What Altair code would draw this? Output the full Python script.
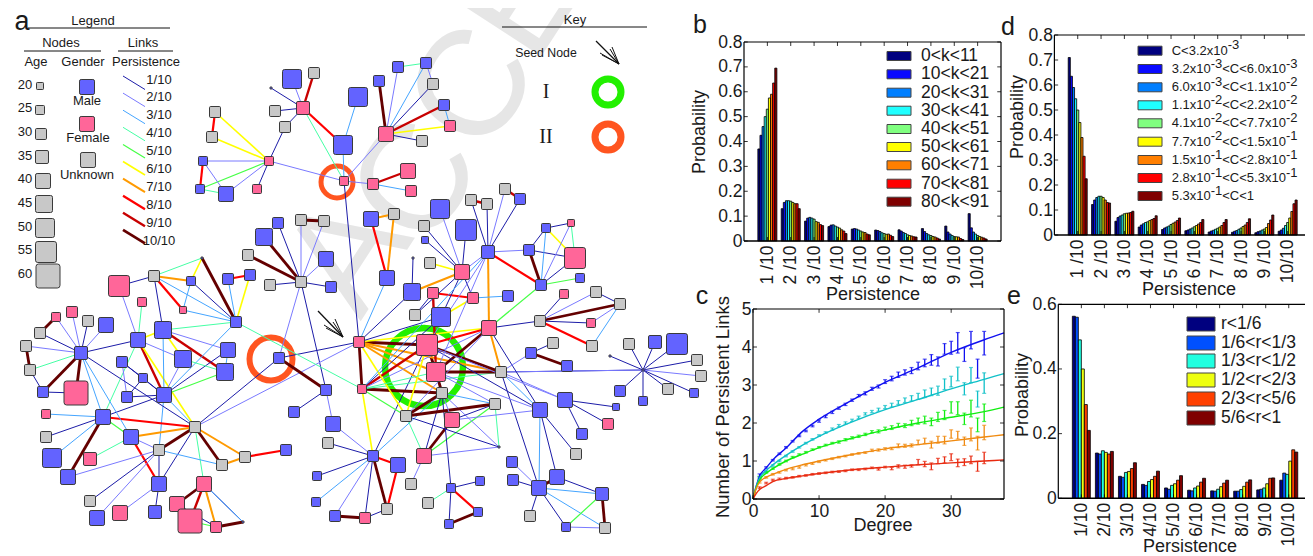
import re
import altair as alt
import pandas as pd

# ---------- network: nodes ----------
NODES = [
("a1",271,88,10,"M"),("a2",292,79,50,"M"),("a3",314,73,30,"U"),("a4",303,108,35,"F"),("a5",275,111,30,"U"),
("a6",285,127,30,"U"),("a7",215,112,30,"U"),("a8",212,137,30,"U"),("a9",269,161,25,"F"),("a10",203,161,25,"M"),
("a11",200,189,25,"M"),("a12",226,194,40,"M"),("a13",257,189,25,"F"),
("c1",344,181,25,"F"),("c2",373,184,30,"F"),("c3",408,171,40,"F"),("c4",411,191,30,"F"),("c5",343,145,50,"M"),
("c6",358,97,50,"M"),("c7",386,134,40,"F"),("c8",379,81,30,"M"),("c9",398,67,30,"M"),("c10",426,63,30,"M"),
("c11",433,84,30,"U"),("c12",444,105,30,"M"),("c13",450,126,30,"F"),("c14",422,141,30,"U"),
("e1",371,219,40,"M"),("e2",394,214,30,"U"),("e3",440,209,50,"M"),("e4",424,226,30,"U"),("e5",425,240,20,"M"),
("e6",466,230,55,"M"),("e7",471,200,30,"U"),("e8",487,204,30,"U"),("e9",505,189,30,"U"),("e10",520,199,30,"M"),
("e11",488,252,35,"M"),("e12",529,250,30,"M"),("e13",546,228,25,"M"),("e14",571,223,20,"F"),("e15",575,258,55,"F"),
("e16",462,272,40,"F"),("e17",430,263,30,"U"),("e18",387,278,40,"M"),("e19",413,258,10,"M"),
("f1",412,292,45,"M"),("f2",433,293,30,"F"),("f3",473,298,30,"F"),("f4",508,296,30,"M"),("f5",415,315,30,"U"),
("f6",441,317,50,"M"),("f7",489,328,40,"F"),
("s1",427,345,55,"F"),("s2",436,372,50,"F"),("d1",359,342,30,"F"),("d2",362,389,25,"F"),("s3",442,393,30,"U"),
("s4",406,416,30,"U"),("s5",452,420,40,"F"),("s6",495,404,30,"U"),("s7",501,372,30,"U"),
("g1",541,285,30,"M"),("g2",580,278,25,"M"),("g3",564,294,25,"F"),("g4",596,292,30,"U"),("g5",620,304,30,"U"),
("g6",540,321,30,"U"),("g7",591,323,25,"F"),("g8",592,346,30,"U"),("g9",553,343,30,"U"),("g10",531,353,30,"M"),
("g11",567,366,30,"M"),("g12",610,356,10,"M"),("h0",643,370,10,"M"),("h1",629,344,30,"U"),("h2",655,342,35,"M"),
("h3",677,344,55,"M"),("h4",697,360,30,"U"),("h5",701,376,30,"U"),("h6",694,393,25,"M"),("h7",620,391,30,"M"),
("h8",643,401,25,"M"),("h9",668,389,30,"U"),
("k1",565,400,40,"M"),("k2",540,410,40,"M"),("k3",616,407,20,"M"),("k4",608,424,30,"F"),("k5",582,434,30,"M"),
("k6",576,454,30,"U"),("k7",512,462,30,"M"),("k8",513,480,30,"M"),("k9",539,488,40,"M"),("k10",557,477,40,"M"),
("k11",602,494,35,"M"),("k12",530,516,30,"U"),("k13",566,527,25,"M"),("k14",605,528,30,"U"),
("m1",373,456,30,"M"),("m2",398,465,40,"M"),("m3",424,456,40,"F"),("m4",411,484,30,"U"),("m5",499,447,10,"M"),
("n1",451,488,25,"M"),("n2",480,481,25,"M"),("n3",428,503,30,"U"),("n4",478,512,25,"M"),("n5",449,524,25,"M"),
("m6",387,509,30,"U"),("m7",365,518,30,"F"),("m8",335,516,30,"M"),
("p1",154,276,30,"U"),("p2",119,286,55,"F"),("p3",191,281,25,"M"),("p4",142,302,25,"F"),("p5",183,310,20,"F"),
("p6",236,322,30,"M"),("p7",228,279,30,"M"),("p8",250,275,30,"M"),("p9",301,282,30,"U"),("p10",270,285,30,"U"),
("p11",331,287,30,"M"),("r1",278,223,30,"M"),("r2",301,220,30,"U"),("r3",324,221,30,"U"),("r4",264,237,45,"M"),
("r5",248,255,30,"U"),("r6",326,259,40,"M"),("r7",202,258,10,"M"),
("t1",72,312,30,"F"),("t2",56,317,25,"F"),("t3",88,321,30,"U"),("t4",106,325,40,"M"),("t5",40,333,30,"U"),
("t6",26,346,30,"U"),("t7",30,370,30,"U"),("t8",43,392,30,"M"),("t9",76,393,60,"F"),("t10",81,353,35,"M"),
("u1",138,340,40,"M"),("u2",163,330,45,"M"),("u3",122,362,30,"M"),("u4",143,378,25,"M"),("u5",127,397,30,"M"),
("u6",164,395,40,"M"),("u7",183,359,45,"M"),("u8",228,350,40,"M"),("u9",225,372,45,"M"),
("v1",103,417,40,"M"),("v2",46,414,25,"F"),("v3",46,437,30,"U"),("v4",52,458,50,"M"),("v5",68,477,40,"M"),
("v6",90,459,35,"F"),("v7",131,437,40,"M"),("v8",159,450,30,"U"),("v9",195,427,30,"U"),("v10",222,465,30,"U"),
("v11",245,457,30,"U"),("v12",286,450,30,"M"),
("w1",159,484,40,"M"),("w2",204,484,40,"F"),("w3",177,504,40,"F"),("w4",190,521,60,"F"),("w5",216,527,30,"F"),
("w6",155,512,35,"M"),("w7",120,513,40,"F"),("w8",97,518,40,"M"),("w9",90,501,30,"U"),("w10",243,522,10,"M"),
("x1",279,358,30,"M"),("x2",326,390,30,"M"),("x3",294,412,30,"M"),("y1",333,424,40,"M"),("y2",328,443,30,"U"),
("y3",317,476,25,"M"),("y4",316,502,25,"M"),
# legend entries
("l20",40,86,20,"U"),("l25",40,110,25,"U"),("l30",41,134,30,"U"),("l35",42,157,35,"U"),("l40",43,181,40,"U"),
("l45",44,204,45,"U"),("l50",45,228,50,"U"),("l55",46,252,55,"U"),("l60",48,276,60,"U"),
("lm",87,87,40,"M"),("lf",87,124,40,"F"),("lu",88,160,40,"U"),
]

LINKS = """a1-a4-1 a2-a4-2 a3-a4-9 a5-a4-1 a6-a4-1 a6-a9-1 a4-c5-8 a4-c1-4 a7-a8-8 a7-a9-6 a8-a9-6 a10-a9-2 a10-a11-8
a11-a9-5 a11-a12-4 a10-a12-2 a12-a9-2 a13-a9-1 a9-c1-2 c1-c2-2 c2-c3-9 c2-c4-3 c5-c1-3 c6-c5-3 c7-c8-10 c7-c9-2
c7-c10-3 c7-c11-1 c7-c12-9 c7-c13-6 c7-c14-1 c9-c10-4 c10-c11-2 c12-c13-3 c7-c1-2 c1-d1-1
e1-e2-7 e1-e18-8 e2-e18-7 e3-e16-2 e4-e16-1 e5-e16-1 e6-e16-1 e7-e8-9 e7-e11-1 e8-e11-1 e9-e11-2 e10-e11-1 e9-e10-9
e11-e12-2 e12-e13-1 e13-e14-1 e12-e15-1 e13-e15-6 e14-e15-4 e12-g1-10 e13-g1-3 e14-g1-2 e15-g1-1 e11-g1-8 e11-f7-7
e17-e16-6 e11-e16-2 e19-f1-1 e18-d1-3 p9-r1-1 p9-r2-2 r2-r3-10 p9-r3-2 p9-r4-10 p9-r5-10 p9-r6-2 p9-p10-1 p9-p11-1
p9-x1-2 p9-x2-1 r7-p1-4 r7-p3-6 r7-p6-10 p7-p8-8 p7-p6-3 p8-p6-6 p1-p2-1 p1-p3-7 p1-p5-8 p1-p6-3 p1-u2-1 p3-p5-3
p3-p6-1 p5-p6-3 p2-u1-2 p4-u1-4 u1-u2-6 u2-p6-4 u2-u7-6 u2-u9-9 u2-u8-2 u1-u7-2 u1-u6-9 u1-v9-6 u1-t10-1 u1-v1-4
u3-u5-2 u3-u4-1 u4-u5-1 u5-u6-1 u3-u6-1 u4-u6-1 u6-u2-3 u6-u7-2 u6-u8-1 u6-u9-5 u6-p6-3 u8-u9-3 u9-u7-4 u6-v1-1
u6-v9-3 u6-v8-3 v9-t10-1 v9-v1-8 v9-v7-7 v9-v8-10 v9-v10-10 v9-v11-7 v9-w1-1 v9-w2-4 v9-x1-1 v9-d1-2 v8-v10-3
v10-v11-7 v11-v12-8 v7-v8-2 v7-v1-5 v7-t10-3 v7-w1-8 v7-v6-4 v1-v2-3 v1-v3-1 v1-v4-3 v1-v5-10 v1-t10-3 v8-w1-1
v8-v5-2 v8-w9-1 v8-w8-2 w1-w6-1 w1-w7-2 t10-t1-2 t10-t2-2 t10-t3-1 t10-t4-2 t10-t5-1 t10-t6-2 t10-t7-4 t10-t8-10
t10-t9-10 t2-t5-10 t6-t7-10 t7-t8-1 t8-t9-1 w2-w3-10 w2-w5-4 w2-w5-7 w2-w10-1 w2-w4-2 w3-w4-1 w3-w5-1 w4-w5-5
w4-w2-9 w5-w10-10 w10-w2-3 x1-d1-1 x1-x2-10 x2-x3-1 x2-y1-2 p6-d2-4 y1-m1-2 y2-m1-1 y3-m1-1 y4-m1-3 m8-m1-2 d2-m1-6
m1-m2-8 m1-m7-1 m1-m6-10 m2-m6-8 m6-m7-1 m7-m8-10 m1-s1-1 m1-s3-3 m3-m4-2 m3-s5-10 m3-s3-1 m3-s6-5 m3-m5-2 m3-s4-4
s3-n1-1 n1-n2-1 n1-n3-4 n1-n4-8 n1-n5-1 n4-n5-10 s4-m5-1 s3-m5-2 s6-m5-4 s5-s6-1 s4-s6-10 s4-s3-10 s3-s6-3 s3-s5-2
s3-s2-10 s1-s2-10 s1-d1-10 d1-s7-7 d1-s3-7 d1-d2-10 d1-s2-7 d1-f7-6 d2-s3-10 d2-s7-4 d2-s1-9 d2-f7-2 d2-f6-1
d1-s4-6 s4-s1-6 s1-s7-10 s2-s7-10 f7-s2-10 f7-s1-8 f7-s7-7 f7-g6-1 f7-g1-5 s7-k2-3 s7-k1-2 s7-k9-1 s7-h0-1 s7-h0-2
s1-k2-1 s2-k2-2 f7-k2-1 g10-s7-2 g10-g9-1 g10-g11-10 k1-k3-1 k1-k4-1 k1-k5-1 k2-k6-1 k2-k10-1 k2-k9-3 k7-k9-2
k8-k9-1 k9-k10-10 k9-k11-3 k9-k12-1 k9-k13-1 k9-k14-3 k10-k11-1 k11-k13-5 k11-k14-10 k13-k14-2 g1-g2-5 g6-g3-1
g6-g5-2 g6-g5-10 g6-g4-2 g6-g7-1 g6-g8-8 g7-g5-2 g8-g5-3 g4-g5-1 h0-h1-1 h0-h2-1 h0-h3-1 h0-g12-1 h0-h7-1 h0-h8-1
h0-h9-1 h0-h4-1 h0-h5-2 h0-h6-1 f1-e16-7 f2-f3-8 f3-f4-3 f3-f6-6 f2-f5-1 f2-s2-9 f1-d1-1 f6-d1-1 e16-f6-1 e16-f3-1
e16-f5-1 e11-s1-2 e11-s2-2 e11-d2-3 d2-s2-4 d2-s4-5 f7-s4-2 s1-k1-2 s2-s6-2 s5-k2-2""".split()

P_COLORS = ["#1c1ca8","#7a7aff","#45a5ff","#45ffa5","#45ff45","#ffff00","#ff9a00","#ff0000","#c80000","#640000"]
P_WIDTHS = [1.0,1.0,1.0,1.0,1.2,1.6,2.0,2.2,2.4,2.8]
P_LABELS = [f"{i}/10" for i in range(1, 11)]
AGES = [10,15,20,25,30,35,40,45,50,55,60]
AGE_SIDES = [2,5,7,9,11,13,15,17,19,21,24]
GENDERS = ["M","F","U"]
G_COLORS = ["#6363ff","#ff6699","#c8c8c8"]

# ---------- panel b ----------
B_LABELS = ["0<k<11","10<k<21","20<k<31","30<k<41","40<k<51","50<k<61","60<k<71","70<k<81","80<k<91"]
JET9 = ["#00007f","#0a0aff","#007fff","#1fffff","#80ff80","#ffff00","#ff7f00","#ff0000","#7f0000"]
B_VALUES = [
[.37,.425,.46,.50,.53,.575,.59,.635,.695],
[.13,.155,.162,.162,.16,.155,.15,.15,.13],
[.08,.092,.095,.092,.088,.078,.075,.066,.062],
[.058,.064,.065,.06,.056,.052,.045,.04,.03],
[.048,.05,.048,.044,.04,.036,.034,.028,.025],
[.044,.042,.038,.033,.03,.027,.028,.023,.018],
[.045,.04,.034,.03,.025,.022,.02,.017,.016],
[.05,.038,.03,.025,.022,.018,.016,.012,.008],
[.06,.036,.028,.022,.018,.017,.016,.01,.006],
[.11,.053,.036,.028,.022,.018,.015,.012,.008]]
# ---------- panel d ----------
D_LABELS = ["C<3.2x10^-3","3.2x10^-3<C<6.0x10^-3","6.0x10^-3<C<1.1x10^-2","1.1x10^-2<C<2.2x10^-2","4.1x10^-2<C<7.7x10^-2",
            "7.7x10^-2<C<1.5x10^-1","1.5x10^-1<C<2.8x10^-1","2.8x10^-1<C<5.3x10^-1","5.3x10^-1<C<1"]
D_VALUES = [
[.71,.635,.59,.545,.5,.45,.39,.315,.225],
[.122,.14,.15,.155,.155,.15,.14,.13,.128],
[.055,.07,.076,.08,.085,.087,.088,.09,.095],
[.032,.04,.045,.05,.053,.058,.062,.066,.077],
[.022,.028,.032,.036,.042,.047,.052,.058,.068],
[.017,.02,.024,.028,.033,.038,.044,.05,.062],
[.012,.016,.019,.023,.027,.032,.038,.05,.062],
[.011,.015,.018,.023,.028,.034,.04,.05,.065],
[.009,.013,.016,.02,.024,.03,.046,.06,.08],
[.015,.02,.027,.038,.05,.068,.094,.125,.14]]
# ---------- panel e ----------
E_LABELS = ["r<1/6","1/6<r<1/3","1/3<r<1/2","1/2<r<2/3","2/3<r<5/6","5/6<r<1"]
E_COLORS = ["#00007f","#0050ff","#20ffe0","#eeff10","#ff4000","#7f0000"]
E_VALUES = [
[.563,.56,.49,.40,.29,.21],
[.14,.137,.147,.142,.137,.145],
[.068,.065,.08,.083,.092,.11],
[.043,.04,.052,.058,.068,.084],
[.032,.028,.04,.045,.056,.07],
[.025,.023,.032,.038,.05,.062],
[.023,.022,.028,.036,.047,.056],
[.022,.022,.027,.037,.05,.057],
[.026,.028,.032,.045,.062,.063],
[.056,.078,.074,.115,.15,.143]]
# ---------- panel c ----------
C_COLORS = ["#1010f0","#10c0c8","#10ee10","#f08a10","#e82a10"]
FIT_X = [0,.5,1,2,3,5,7.5,10,15,20,25,30,35,38]
FITS = [
[0,.35,.6,.82,1.03,1.34,1.78,2.1,2.6,3.07,3.45,3.86,4.19,4.37],
[0,.33,.55,.75,.9,1.15,1.42,1.65,2.03,2.35,2.62,2.9,3.15,3.3],
[0,.3,.5,.68,.8,1.0,1.18,1.35,1.6,1.82,2.0,2.15,2.3,2.42],
[0,.28,.45,.57,.65,.78,.9,1.0,1.17,1.32,1.43,1.53,1.63,1.69],
[0,.15,.25,.35,.46,.54,.61,.67,.77,.84,.9,.95,1.0,1.03]]
MEANS = [
[.62,.83,1.02,1.19,1.36,1.52,1.66,1.79,1.92,2.05,2.17,2.28,2.39,2.49,2.6,2.72,2.78,2.9,2.96,3.09,3.17,3.27,3.33,3.38,3.5,3.58,3.66,3.62,3.95,3.98,4.11,3.8,4.18,3.43,4.1],
[.55,.72,.88,1.0,1.13,1.25,1.36,1.47,1.57,1.67,1.75,1.84,1.93,2.0,2.07,2.15,2.24,2.3,2.35,2.42,2.47,2.54,2.6,2.65,2.7,2.77,2.82,2.85,3.02,3.09,3.29,2.9,3.26,2.63,3.05],
[.57,.7,.8,.91,1.0,1.1,1.17,1.23,1.3,1.36,1.42,1.47,1.5,1.56,1.61,1.65,1.7,1.77,1.78,1.85,1.88,1.94,1.93,2.0,2.05,2.08,2.03,2.16,2.21,2.41,2.39,2.11,2.38,1.95,2.27],
[.45,.57,.65,.7,.76,.79,.83,.89,.93,.98,1.02,1.06,1.1,1.13,1.17,1.2,1.22,1.28,1.29,1.32,1.33,1.4,1.4,1.41,1.49,1.53,1.43,1.56,1.55,1.71,1.68,1.52,1.7,1.47,1.75],
[.3,.42,.5,.53,.55,.57,.6,.62,.65,.67,.69,.71,.72,.74,.77,.77,.79,.82,.78,.84,.8,.86,.85,.87,.97,.92,.86,1.0,1.03,1.1,.95,.97,1.03,.86,1.08]]
ERRS = [
[.04,.02,.02,.02,.02,.02,.02,.02,.02,.03,.03,.03,.03,.03,.03,.03,.04,.04,.04,.05,.06,.07,.07,.08,.1,.1,.14,.12,.14,.17,.27,.18,.23,.25,.31],
[.03,.02,.02,.02,.02,.02,.02,.02,.02,.02,.02,.03,.03,.03,.03,.03,.03,.03,.04,.04,.05,.05,.06,.07,.08,.1,.1,.12,.14,.14,.18,.16,.2,.21,.27],
[.03,.02,.02,.02,.02,.02,.02,.02,.02,.02,.02,.02,.03,.03,.03,.03,.03,.03,.04,.04,.05,.05,.05,.07,.08,.1,.1,.12,.12,.15,.17,.15,.22,.18,.23],
[.03,.02,.02,.02,.02,.02,.02,.02,.02,.02,.02,.02,.02,.02,.02,.02,.02,.03,.03,.03,.03,.05,.04,.04,.06,.07,.09,.09,.1,.11,.1,.11,.17,.18,.19],
[.02,.02,.02,.02,.02,.02,.02,.02,.02,.02,.02,.02,.02,.02,.02,.02,.02,.02,.02,.02,.03,.04,.04,.03,.07,.07,.09,.07,.08,.09,.1,.09,.1,.13,.15]]
SERIES = ["blue","cyan","green","orange","red"]

SANS = "Liberation Sans"
SERIF = "Liberation Serif"
INK = "#1a1a1a"
W, H = 1297, 547
PX = alt.Scale(domain=[8, 8 + W], range=[0, W])
PY = alt.Scale(domain=[8, 8 + H], range=[0, H])
ROUNDED = "M-0.78,-1H0.78Q1,-1,1,-0.78V0.78Q1,1,0.78,1H-0.78Q-1,1,-1,0.78V-0.78Q-1,-1,-0.78,-1Z"

def X(f="x"): return alt.X(f"{f}:Q", scale=PX, axis=None)
def Y(f="y"): return alt.Y(f"{f}:Q", scale=PY, axis=None)

# ---------- under layer: watermark and rings ----------
wm = pd.DataFrame({"t": list("ACCE"), "x": [350, 418, 475, 524], "y": [255, 183, 89, 0]})
wm_layer = alt.Chart(wm).mark_text(font=SANS, fontSize=150, color="#e6e6e6", angle=303, baseline="middle").encode(
    x=X(), y=Y(), text="t:N")
rings = pd.DataFrame({"x": [424, 271, 337, 608, 608], "y": [367, 359, 182, 92, 137],
                      "c": ["#22f000", "#ff5520", "#ff5520", "#22f000", "#ff5520"],
                      "d": [78, 43, 32, 26, 26], "w": [6.5, 6, 5, 7, 7]})
ring_layer = alt.Chart(rings).mark_point(filled=False, shape="circle", opacity=1).encode(
    x=X(), y=Y(), stroke=alt.Stroke("c:N", scale=None),
    size=alt.Size("s:Q", scale=None), strokeWidth=alt.StrokeWidth("w:Q", scale=None)
).transform_calculate(s="datum.d*datum.d")
under = alt.layer(wm_layer, ring_layer)

# ---------- network ----------
pos = {n[0]: (n[1], n[2]) for n in NODES}
rows = []
for item in LINKS:
    a, b, p = item.split("-")
    rows.append(dict(x=pos[a][0], y=pos[a][1], x2=pos[b][0], y2=pos[b][1], p=int(p)))
for i in range(10):
    y0 = 76 + i * 17.1
    rows.append(dict(x=123, y=y0, x2=145, y2=y0 + 13.5, p=i + 1))
links = pd.DataFrame(rows)
links["w"] = [P_WIDTHS[p - 1] for p in links.p]
link_layer = alt.Chart(links).mark_rule().encode(
    x=X(), y=Y(), x2="x2:Q", y2="y2:Q",
    color=alt.Color("p:O", scale=alt.Scale(domain=list(range(1, 11)), range=P_COLORS), legend=None),
    strokeWidth=alt.StrokeWidth("w:Q", scale=None))
nodes = pd.DataFrame(NODES, columns=["id", "x", "y", "age", "g"])
nodes["s"] = [AGE_SIDES[AGES.index(a)] ** 2 for a in nodes.age]
node_layer = alt.Chart(nodes).mark_point(filled=True, shape=ROUNDED, stroke="#3a3a3a", strokeWidth=1, opacity=1).encode(
    x=X(), y=Y(),
    fill=alt.Fill("g:N", scale=alt.Scale(domain=GENDERS, range=G_COLORS), legend=None),
    size=alt.Size("s:Q", scale=None))
network = alt.layer(link_layer, node_layer)

# ---------- text and legend overlay ----------
center = [
("a",22,22,27),("Legend",93,21,13),("Nodes",61,43,13),("Links",143,43,13),("Age",36,62,13),("Gender",83,62,13),
("Persistence",146,62,13),("Male",87,101,13),("Female",88,138,13),("Unknown",87,175,13),
("Key",575,20,13),("Seed Node",546,53,12.3),
("b",700,25,25),("c",702,296,25),("d",1008,27,25),("e",1014,296,25),
("Persistence",873,295,18),("Persistence",1189,290,18),("Persistence",1190,547,18),("Degree",883,526,18),
]
for i, a in enumerate(range(20, 65, 5)):
    center.append((str(a), 25, [85,108,132,156,179,203,227,250,274][i], 13))
for i, lab in enumerate(P_LABELS):
    center.append((lab, 159, 79.5 + i * 17.9, 13))
center_df = pd.DataFrame(center, columns=["t", "x", "y", "s"])
center_layer = alt.Chart(center_df).mark_text(font=SANS, color=INK, baseline="middle", align="center").encode(
    x=X(), y=Y(), text="t:N", size=alt.Size("s:Q", scale=None))
vert = pd.DataFrame([("Probability",700,132,18),("Probability",1018,117,18),("Probability",1023,395,18),
                     ("Number of Persistent Links",723,407,18.5)], columns=["t","x","y","s"])
vert_layer = alt.Chart(vert).mark_text(font=SANS, color=INK, baseline="middle", align="center", angle=270).encode(
    x=X(), y=Y(), text="t:N", size=alt.Size("s:Q", scale=None))
serif = pd.DataFrame([("I",546,92),("II",546,137)], columns=["t","x","y"])
serif_layer = alt.Chart(serif).mark_text(font=SERIF, fontSize=20, color=INK, baseline="middle").encode(
    x=X(), y=Y(), text="t:N")

CW = {"<":.584,"C":.722,"x":.5,".":.278,"-":.333}
def tw(s, fs): return sum(CW.get(c, .556) for c in s) * fs

left = []
for lab, y in zip(B_LABELS, [56,74.3,92.7,110.7,129,147,165.3,183.7,201.7]):
    left.append((lab, 921, y, 17.5))
for lab, y in zip(E_LABELS, [324,343,361,380,399,418]):
    left.append((lab, 1221, y, 17.5))
for lab, y in zip(D_LABELS, [50.7,69,87.3,105.3,123.3,141.7,160,178,196]):
    cur = 1171.7
    for piece in re.split(r"(\^-\d)", lab):
        if not piece:
            continue
        if piece.startswith("^"):
            txt = piece[1:]
            left.append((txt, cur, y - 5.5, 13))
        else:
            txt = piece
            left.append((txt, cur, y, 13))
        cur += tw(txt, 13)
left_df = pd.DataFrame(left, columns=["t", "x", "y", "s"])
left_layer = alt.Chart(left_df).mark_text(font=SANS, color=INK, baseline="middle", align="left").encode(
    x=X(), y=Y(), text="t:N", size=alt.Size("s:Q", scale=None))

segs = pd.DataFrame([
(28,28,170,28,1),(24,51,101,51,1),(118,51,173,51,1),(502,27,647,27,1),
(596,41,619,64,1.3),(602,55,619,64,1),(612,47,619,64,1),(600,53,619,64,1),(610,49,619,64,1),
(318,311,343,337,1.3),(326,328,343,337,1),(335,319,343,337,1),(324,325,343,337,1),(333,322,343,337,1),
], columns=["x","y","x2","y2","w"])
seg_layer = alt.Chart(segs).mark_rule(color="#111").encode(
    x=X(), y=Y(), x2="x2:Q", y2="y2:Q", strokeWidth=alt.StrokeWidth("w:Q", scale=None))

sw = []
for c, y in zip(JET9, [56,74.3,92.7,110.7,129,147,165.3,183.7,201.7]):
    sw.append((887, y - 4.5, 911, y + 4.5, c))
for c, y in zip(JET9, [50.7,69,87.3,105.3,123.3,141.7,160,178,196]):
    sw.append((1138, y - 4.5, 1162, y + 4.5, c))
for c, y in zip(E_COLORS, [324,343,361,380,399,418]):
    sw.append((1187, y - 7, 1215, y + 7, c))
sw_df = pd.DataFrame(sw, columns=["x","y","x2","y2","c"])
sw_layer = alt.Chart(sw_df).mark_rect(stroke="#444", strokeWidth=1).encode(
    x=X(), y=Y(), x2="x2:Q", y2="y2:Q", fill=alt.Fill("c:N", scale=None))
overlay = alt.layer(seg_layer, sw_layer, center_layer, vert_layer, serif_layer, left_layer)

# ---------- panels ----------
def frame_df(xd, yd, xt, yt, lx, ly):
    r = []
    for a, b, c, d, w in [(xd[0],yd[0],xd[1],yd[0],1.6),(xd[0],yd[1],xd[1],yd[1],1.2),
                          (xd[0],yd[0],xd[0],yd[1],1.2),(xd[1],yd[0],xd[1],yd[1],1.2)]:
        r.append((a, b, c, d, w))
    for t in xt:
        r.append((t, yd[0], t, yd[0] + ly, .8))
        r.append((t, yd[1], t, yd[1] - ly, .8))
    for t in yt:
        r.append((xd[0], t, xd[0] + lx, t, .8))
        r.append((xd[1], t, xd[1] - lx, t, .8))
    return pd.DataFrame(r, columns=["x","y","x2","y2","w"])

def scales(box, xd, yd):
    l, t, r, b = box
    return (alt.Scale(domain=xd, range=[l - 8, r - 8], nice=False, zero=False),
            alt.Scale(domain=yd, range=[b - 8, t - 8], nice=False, zero=False))

def axes(box, xvals, yvals, xexpr, yexpr, rotated, fs):
    l, t, r, b = box
    xa = dict(orient="bottom", values=xvals, labelExpr=xexpr, title=None, grid=False, ticks=False, domain=False,
              offset=-(H - (b - 8)), labelFont=SANS, labelFontSize=fs, labelColor=INK,
              labelOverlap=False, labelFlush=False, labelBound=False)
    if rotated:
        xa.update(labelAngle=270, labelAlign="right", labelBaseline="middle", labelPadding=4)
    else:
        xa.update(labelAngle=0, labelPadding=3)
    ya = dict(orient="left", values=yvals, labelExpr=yexpr, title=None, grid=False, ticks=False, domain=False,
              offset=-(l - 8), labelFont=SANS, labelFontSize=fs, labelColor=INK, labelPadding=2,
              labelOverlap=False, labelFlush=False, labelBound=False)
    return alt.Axis(**xa), alt.Axis(**ya)

XEXPR = "datum.value == 10 ? '10/10' : datum.value + ' /10'"
XEXPR_E = "datum.value + '/10'"
YEXPR = "datum.value == 0 ? '0' : format(datum.value, '.1f')"

def bar_panel(box, values, labels, colors, ymax, yticks, barw, xexpr, fs):
    sx, sy = scales(box, [0, 11], [0, ymax])
    ax, ay = axes(box, list(range(1, 11)), yticks, xexpr, YEXPR, True, fs)
    n = len(labels)
    rows = []
    for g, vals in enumerate(values, start=1):
        for j, v in enumerate(vals):
            x0 = g + (j - n / 2) * barw
            rows.append(dict(x0=x0, x1=x0 + barw, v=v, y0=0, k=labels[j]))
    df = pd.DataFrame(rows)
    bars = alt.Chart(df).mark_bar(stroke="#000", strokeWidth=.8, opacity=1).encode(
        x=alt.X("x0:Q", scale=sx, axis=ax), x2="x1:Q",
        y=alt.Y("v:Q", scale=sy, axis=ay), y2="y0:Q",
        color=alt.Color("k:N", scale=alt.Scale(domain=labels, range=colors), legend=None))
    fr = frame_df([0, 11], [0, ymax], list(range(1, 11)), yticks, .16, ymax * .02)
    frame = alt.Chart(fr).mark_rule(color="#000").encode(
        x=alt.X("x:Q", scale=sx, axis=ax), x2="x2:Q",
        y=alt.Y("y:Q", scale=sy, axis=ay), y2="y2:Q",
        strokeWidth=alt.StrokeWidth("w:Q", scale=None))
    return alt.layer(bars, frame)

panel_b = bar_panel((744, 42, 1001, 241), B_VALUES, B_LABELS, JET9, .8, [0,.1,.2,.3,.4,.5,.6,.7,.8], .0905, XEXPR, 17.5)
panel_d = bar_panel((1054.4, 35, 1311, 235), D_VALUES, [f"d{i}" for i in range(9)], JET9, .8, [0,.1,.2,.3,.4,.5,.6,.7,.8], .0905, XEXPR, 17.5)
panel_e = bar_panel((1058.3, 304.3, 1311.8, 498.3), E_VALUES, E_LABELS, E_COLORS, .6, [0,.2,.4,.6], .13, XEXPR_E, 17.5)

box_c = (753, 309, 1004, 499)
sxc, syc = scales(box_c, [0, 38], [0, 5])
axc, ayc = axes(box_c, [0,10,20,30], [0,1,2,3,4,5], "format(datum.value,'d')", "format(datum.value,'d')", False, 17.5)
color_c = alt.Color("s:N", scale=alt.Scale(domain=SERIES, range=C_COLORS), legend=None)
fit_rows = [dict(d=d, v=v, s=s) for s, f in zip(SERIES, FITS) for d, v in zip(FIT_X, f)]
err_rows = [dict(d=i + 1, lo=m - e, hi=m + e, s=s)
            for s, ms, es in zip(SERIES, MEANS, ERRS) for i, (m, e) in enumerate(zip(ms, es))]
fit_df, err_df = pd.DataFrame(fit_rows), pd.DataFrame(err_rows)
fit_layer = alt.Chart(fit_df).mark_line(strokeWidth=1.4, interpolate="monotone").encode(
    x=alt.X("d:Q", scale=sxc, axis=axc), y=alt.Y("v:Q", scale=syc, axis=ayc), color=color_c, detail="s:N")
err_rule = alt.Chart(err_df).mark_rule(strokeWidth=1.3).encode(
    x=alt.X("d:Q", scale=sxc, axis=axc), y=alt.Y("lo:Q", scale=syc, axis=ayc), y2="hi:Q", color=color_c)
tick_lo = alt.Chart(err_df).mark_tick(orient="horizontal", size=4, thickness=1.2).encode(
    x=alt.X("d:Q", scale=sxc, axis=axc), y=alt.Y("lo:Q", scale=syc, axis=ayc), color=color_c)
tick_hi = alt.Chart(err_df).mark_tick(orient="horizontal", size=4, thickness=1.2).encode(
    x=alt.X("d:Q", scale=sxc, axis=axc), y=alt.Y("hi:Q", scale=syc, axis=ayc), color=color_c)
fr_c = frame_df([0, 38], [0, 5], [0,10,20,30], [0,1,2,3,4,5], .6, .1)
frame_c = alt.Chart(fr_c).mark_rule(color="#000").encode(
    x=alt.X("x:Q", scale=sxc, axis=axc), x2="x2:Q",
    y=alt.Y("y:Q", scale=syc, axis=ayc), y2="y2:Q",
    strokeWidth=alt.StrokeWidth("w:Q", scale=None))
panel_c = alt.layer(err_rule, tick_lo, tick_hi, fit_layer, frame_c)

chart = alt.layer(under, network, overlay, panel_b, panel_c, panel_d, panel_e).resolve_scale(
    x="independent", y="independent", color="independent", fill="independent",
    size="independent", stroke="independent", strokeWidth="independent"
).properties(width=W, height=H, padding=0, background="white", autosize=alt.AutoSizeParams(type="none")
).configure_view(stroke=None)

chart.save("out.html", embed_options={"renderer": "svg", "actions": False})
